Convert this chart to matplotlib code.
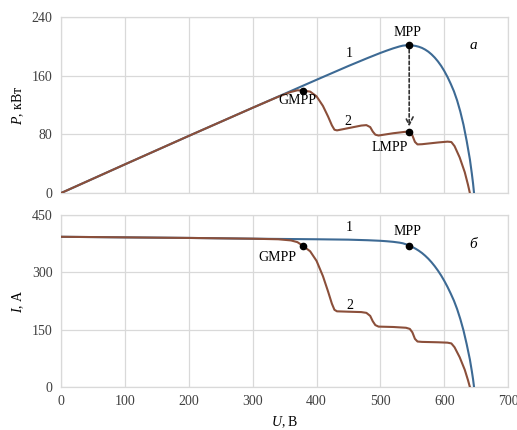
import numpy as np
import matplotlib.pyplot as plt

# ==========================================
# DATA
# ==========================================

# curve 1 - uniform irradiance
u1 = [0, 100, 200, 300, 400, 450, 480, 500, 510, 520, 530, 535, 540,
      545, 550, 555, 560, 565, 570, 575, 580, 585, 590, 595, 600, 605,
      610, 615, 620, 625, 630, 635, 640, 643, 645, 646.5]
i1 = [393, 391.5, 390, 388, 386.5, 385.5, 384, 382.5, 381.3, 379.8,
      377.6, 376, 373.4, 370, 366.2, 361.8, 356.6, 350.6, 343.5, 335.5,
      326.3, 316, 304.5, 291.8, 277.5, 261.8, 244.5, 226, 204, 178, 148,
      112, 72, 42, 20, 0]

# curve 2 - partial shading
u2 = [0, 100, 200, 300, 340, 360, 370, 379, 390, 400, 410, 418, 424,
      428, 432, 450, 470, 478, 484, 488, 492, 497, 520, 540, 546, 550,
      554, 558, 565, 590, 605, 611, 616, 624, 632, 637, 640]
i2 = [393, 391.5, 390, 388, 386.5, 383.5, 379, 369, 355, 330, 290, 250,
      218, 202, 198, 197, 196, 194, 186, 172, 162, 158, 157, 155, 152,
      143, 126, 119, 118, 117, 116, 114, 104, 78, 45, 18, 0]

# power, kW
p1 = [u * i / 1000 for u, i in zip(u1, i1)]
p2 = [u * i / 1000 for u, i in zip(u2, i2)]

mpp_u, mpp_i = 545, 370
gmpp_u, gmpp_i = 379, 369
lmpp_u, lmpp_i = 545, 154

x_ticks = [0, 100, 200, 300, 400, 500, 600, 700]
p_ticks = [0, 80, 160, 240]
i_ticks = [0, 150, 300, 450]

# ==========================================
# STYLE
# ==========================================

plt.rcParams['font.family'] = ['Liberation Serif', 'DejaVu Serif']
plt.rcParams['mathtext.fontset'] = 'custom'
plt.rcParams['mathtext.it'] = 'Liberation Serif:italic'
plt.rcParams['mathtext.rm'] = 'Liberation Serif'

blue = "#3d6a94"
brown = "#8b4f3a"
grid_c = "#d9d9d9"
txt_c = "#404040"
fs = 10

fig = plt.figure(figsize=(5.17, 4.30), dpi=100)
ax1 = fig.add_axes([0.118, 0.551, 0.865, 0.409])
ax2 = fig.add_axes([0.118, 0.100, 0.865, 0.400])


def style(ax, yticks):
    ax.set_xlim(0, 700)
    ax.set_ylim(yticks[0], yticks[-1])
    ax.set_xticks(x_ticks)
    ax.set_yticks(yticks)
    ax.grid(True, color=grid_c, linewidth=0.9)
    ax.set_axisbelow(True)
    for s in ax.spines.values():
        s.set_color(grid_c)
        s.set_linewidth(0.9)
    ax.tick_params(length=0, labelsize=fs, colors=txt_c, pad=6)


# ==========================================
# TOP: P-U
# ==========================================

style(ax1, p_ticks)
ax1.set_xticklabels([])
ax1.plot(u1, p1, color=blue, linewidth=1.5, zorder=3)
ax1.plot(u2, p2, color=brown, linewidth=1.5, zorder=3)
ax1.plot([mpp_u, gmpp_u, lmpp_u],
         [mpp_u * mpp_i / 1000, gmpp_u * gmpp_i / 1000, lmpp_u * lmpp_i / 1000],
         "o", color="black", markersize=4.5, zorder=5)
ax1.annotate("", xy=(lmpp_u, lmpp_u * lmpp_i / 1000 + 3),
             xytext=(mpp_u, mpp_u * mpp_i / 1000 - 2),
             arrowprops=dict(arrowstyle="->", linestyle=(0, (2, 1.5)),
                             color="#333333", lw=1.2, mutation_scale=14),
             zorder=4)
ax1.text(543, 219, "MPP", fontsize=fs, ha="center", va="center")
ax1.text(451, 191, "1", fontsize=fs, ha="center", va="center")
ax1.text(370, 127, "GMPP", fontsize=fs, ha="center", va="center")
ax1.text(449, 98, "2", fontsize=fs, ha="center", va="center")
ax1.text(515, 62, "LMPP", fontsize=fs, ha="center", va="center")
ax1.text(645, 202, "а", fontsize=fs + 1, style="italic", ha="center", va="center")
ax1.set_ylabel("$P$, кВт", fontsize=fs, labelpad=4)

# ==========================================
# BOTTOM: I-U
# ==========================================

style(ax2, i_ticks)
ax2.plot(u1, i1, color=blue, linewidth=1.5, zorder=3)
ax2.plot(u2, i2, color=brown, linewidth=1.5, zorder=3)
ax2.plot([mpp_u, gmpp_u], [mpp_i, gmpp_i], "o", color="black",
         markersize=4.5, zorder=5)
ax2.text(543, 407, "MPP", fontsize=fs, ha="center", va="center")
ax2.text(451, 416, "1", fontsize=fs, ha="center", va="center")
ax2.text(338, 340, "GMPP", fontsize=fs, ha="center", va="center")
ax2.text(452, 213, "2", fontsize=fs, ha="center", va="center")
ax2.text(645, 374, "б", fontsize=fs + 1, style="italic", ha="center", va="center")
ax2.set_ylabel("$I$, А", fontsize=fs, labelpad=4)
ax2.set_xlabel("$U$, В", fontsize=fs, labelpad=4)

plt.savefig("out.png", dpi=100)
plt.close()
